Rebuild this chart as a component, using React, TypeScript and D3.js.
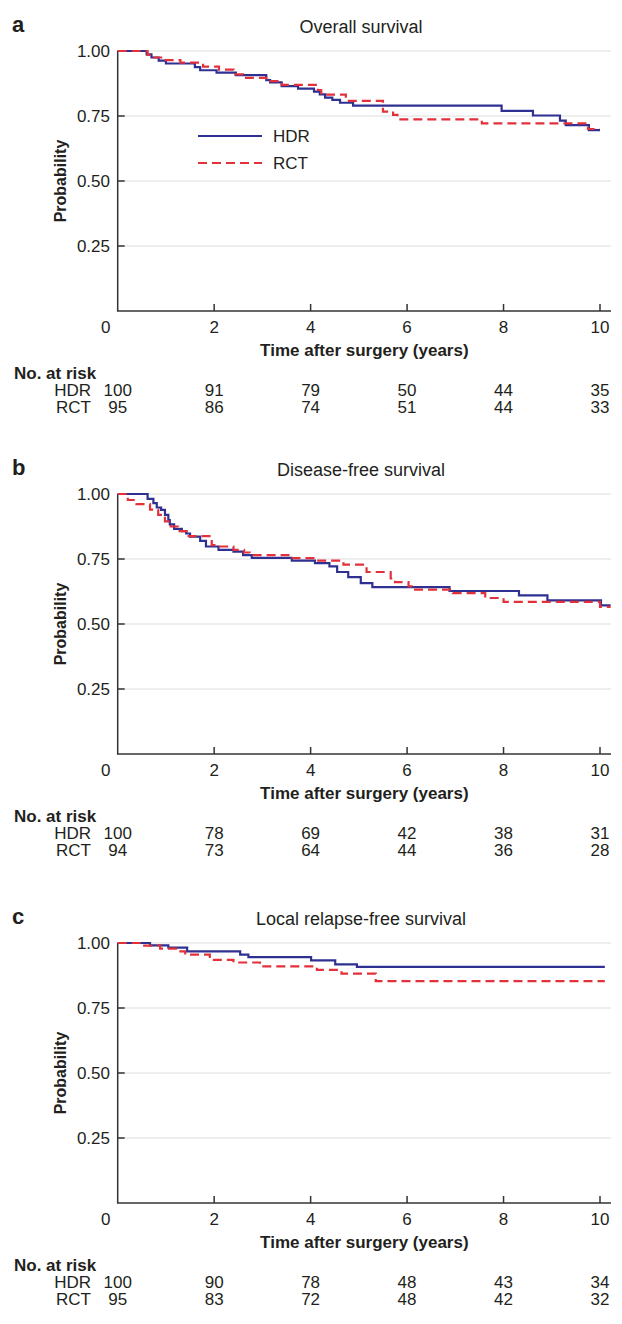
import React from "react";
import * as d3 from "d3";

// ---------- DATA ----------
const xTicks = [0, 2, 4, 6, 8, 10];
const yTicks = [0.25, 0.5, 0.75, 1.0];
const yTickLabels = ["0.25", "0.50", "0.75", "1.00"];
const panelLetters = ["a", "b", "c"];
const panelTitles = ["Overall survival", "Disease-free survival", "Local relapse-free survival"];
const groupNames = ["HDR", "RCT"];

// Panel a: overall survival
const osHdrTime = [0, 0.6, 0.7, 0.85, 1.0, 1.6, 1.71, 2.05, 2.45, 3.08, 3.16, 3.4, 3.74, 4.07, 4.19, 4.3, 4.45, 4.61, 4.88, 7.96, 8.61, 9.17, 9.29, 9.77, 10.0];
const osHdrSurv = [1, 0.987, 0.975, 0.963, 0.952, 0.938, 0.926, 0.917, 0.907, 0.888, 0.879, 0.865, 0.855, 0.844, 0.833, 0.821, 0.812, 0.801, 0.79, 0.77, 0.752, 0.732, 0.715, 0.696, 0.696];
const osRctTime = [0, 0.62, 0.72, 0.95, 1.3, 1.77, 2.1, 2.4, 2.6, 3.08, 3.4, 4.15, 4.22, 4.73, 5.5, 5.71, 5.8, 7.55, 9.75, 10.0];
const osRctSurv = [1, 0.985, 0.975, 0.965, 0.955, 0.94, 0.928, 0.91, 0.897, 0.884, 0.87, 0.85, 0.832, 0.808, 0.767, 0.754, 0.737, 0.722, 0.7, 0.7];

// Panel b: disease-free survival
const dfsHdrTime = [0, 0.62, 0.74, 0.81, 0.9, 0.98, 1.05, 1.08, 1.17, 1.33, 1.42, 1.5, 1.71, 1.83, 2.09, 2.4, 2.6, 2.78, 3.61, 4.09, 4.39, 4.55, 4.78, 5.04, 5.28, 6.88, 8.32, 8.91, 10.02, 10.22];
const dfsHdrSurv = [1, 0.981, 0.965, 0.948, 0.939, 0.92, 0.9, 0.883, 0.866, 0.857, 0.848, 0.836, 0.82, 0.798, 0.785, 0.778, 0.765, 0.754, 0.744, 0.734, 0.722, 0.7, 0.68, 0.657, 0.642, 0.627, 0.61, 0.591, 0.572, 0.572];
const dfsRctTime = [0, 0.21, 0.39, 0.67, 0.84, 0.98, 1.1, 1.25, 1.43, 1.95, 2.09, 2.4, 2.62, 2.74, 3.54, 4.13, 4.68, 5.16, 5.66, 5.75, 6.03, 6.1, 6.95, 7.62, 8.0, 10.0, 10.22];
const dfsRctSurv = [1, 0.977, 0.961, 0.94, 0.92, 0.895, 0.875, 0.857, 0.838, 0.803, 0.798, 0.785, 0.775, 0.765, 0.753, 0.744, 0.728, 0.7, 0.675, 0.661, 0.645, 0.632, 0.619, 0.6, 0.585, 0.566, 0.566];

// Panel c: local relapse-free survival
const lrfsHdrTime = [0, 0.67, 1.05, 1.44, 2.54, 2.71, 4.01, 4.51, 4.96, 10.1];
const lrfsHdrSurv = [1, 0.991, 0.982, 0.968, 0.955, 0.946, 0.933, 0.918, 0.908, 0.908];
const lrfsRctTime = [0, 0.55, 0.88, 1.3, 1.4, 1.91, 2.4, 2.95, 4.13, 4.64, 5.35, 10.1];
const lrfsRctSurv = [1, 0.99, 0.978, 0.968, 0.955, 0.935, 0.925, 0.91, 0.897, 0.882, 0.853, 0.853];

// Numbers at risk
const osRiskHdr = [100, 91, 79, 50, 44, 35];
const osRiskRct = [95, 86, 74, 51, 44, 33];
const dfsRiskHdr = [100, 78, 69, 42, 38, 31];
const dfsRiskRct = [94, 73, 64, 44, 36, 28];
const lrfsRiskHdr = [100, 90, 78, 48, 43, 34];
const lrfsRiskRct = [95, 83, 72, 48, 42, 32];

// ---------- STYLE / LAYOUT ----------
const FONT = "'Liberation Sans', Arial, Helvetica, sans-serif";
const TEXT = "#231f20";
const BLUE = "#2e3192";
const RED = "#e2313b";
const AXIS = "#333333";
const GRID = "#e8e8e8";

const W = 622;
const H = 1324;
const X0 = 117.7;
const X10 = 600;
const AXIS_END = 611;
const PLOT_H = 260;
const PANEL_TOPS = [51, 494, 943];

const x = d3.scaleLinear().domain([0, 10]).range([X0, X10]);

const panels = [
  { hdrT: osHdrTime, hdrS: osHdrSurv, rctT: osRctTime, rctS: osRctSurv, riskH: osRiskHdr, riskR: osRiskRct, legend: true },
  { hdrT: dfsHdrTime, hdrS: dfsHdrSurv, rctT: dfsRctTime, rctS: dfsRctSurv, riskH: dfsRiskHdr, riskR: dfsRiskRct, legend: false },
  { hdrT: lrfsHdrTime, hdrS: lrfsHdrSurv, rctT: lrfsRctTime, rctS: lrfsRctSurv, riskH: lrfsRiskHdr, riskR: lrfsRiskRct, legend: false },
];

function Panel({ idx }: { idx: number }) {
  const p = panels[idx];
  const top = PANEL_TOPS[idx];
  const bottom = top + PLOT_H;
  const y = d3.scaleLinear().domain([0, 1]).range([bottom, top]);
  const line = d3
    .line<[number, number]>()
    .x((d) => x(d[0]))
    .y((d) => y(d[1]))
    .curve(d3.curveStepAfter);
  const hdrPts = p.hdrT.map((t, i) => [t, p.hdrS[i]] as [number, number]);
  const rctPts = p.rctT.map((t, i) => [t, p.rctS[i]] as [number, number]);
  const midY = (top + bottom) / 2;

  return (
    <g>
      <text x={12} y={top - 19} fontSize={22} fontWeight="bold" fill={TEXT}>
        {panelLetters[idx]}
      </text>
      <text x={361} y={top - 18} fontSize={18} textAnchor="middle" fill={TEXT}>
        {panelTitles[idx]}
      </text>
      {/* grid */}
      {yTicks.map((v) => (
        <line key={"g" + v} x1={X0} x2={AXIS_END} y1={y(v)} y2={y(v)} stroke={GRID} strokeWidth={1.5} />
      ))}
      {/* y ticks & labels */}
      {yTicks.map((v, i) => (
        <g key={"yt" + v}>
          <line x1={X0} x2={X0 + 7} y1={y(v)} y2={y(v)} stroke={AXIS} strokeWidth={1.5} />
          <text x={110} y={y(v)} dy="0.36em" fontSize={17} textAnchor="end" fill={TEXT}>
            {yTickLabels[i]}
          </text>
        </g>
      ))}
      {/* x ticks & labels */}
      {xTicks.map((v) => (
        <g key={"xt" + v}>
          {v > 0 && <line x1={x(v)} x2={x(v)} y1={bottom} y2={bottom - 7} stroke={AXIS} strokeWidth={1.5} />}
          <text x={x(v) - (v === 0 ? 12 : 0)} y={bottom + 22} fontSize={17} textAnchor="middle" fill={TEXT}>
            {v}
          </text>
        </g>
      ))}
      {/* axes */}
      <line x1={X0} x2={X0} y1={top} y2={bottom} stroke={AXIS} strokeWidth={1.5} />
      <line x1={X0 - 0.75} x2={AXIS_END} y1={bottom} y2={bottom} stroke={AXIS} strokeWidth={1.5} />
      {/* axis titles */}
      <text
        transform={`translate(66,${midY}) rotate(-90)`}
        fontSize={16}
        fontWeight="bold"
        textAnchor="middle"
        fill={TEXT}
      >
        Probability
      </text>
      <text x={(X0 + AXIS_END) / 2} y={bottom + 45} fontSize={17} fontWeight="bold" textAnchor="middle" fill={TEXT}>
        Time after surgery (years)
      </text>
      {/* curves */}
      <path d={line(hdrPts) || ""} fill="none" stroke={BLUE} strokeWidth={2.2} />
      <path d={line(rctPts) || ""} fill="none" stroke={RED} strokeWidth={2.2} strokeDasharray="9,5" />
      {/* legend */}
      {p.legend && (
        <g>
          <line x1={198} x2={262} y1={top + 85} y2={top + 85} stroke={BLUE} strokeWidth={2.2} />
          <text x={273} y={top + 85} dy="0.36em" fontSize={17} fill={TEXT}>
            {groupNames[0]}
          </text>
          <line x1={198} x2={262} y1={top + 112} y2={top + 112} stroke={RED} strokeWidth={2.2} strokeDasharray="9,5" />
          <text x={273} y={top + 112} dy="0.36em" fontSize={17} fill={TEXT}>
            {groupNames[1]}
          </text>
        </g>
      )}
      {/* numbers at risk */}
      <text x={14} y={bottom + 68} fontSize={17} fontWeight="bold" fill={TEXT}>
        No. at risk
      </text>
      <text x={91} y={bottom + 85} fontSize={17} textAnchor="end" fill={TEXT}>
        {groupNames[0]}
      </text>
      <text x={91} y={bottom + 102} fontSize={17} textAnchor="end" fill={TEXT}>
        {groupNames[1]}
      </text>
      {xTicks.map((v, i) => (
        <g key={"r" + v}>
          <text x={x(v)} y={bottom + 85} fontSize={17} textAnchor="middle" fill={TEXT}>
            {p.riskH[i]}
          </text>
          <text x={x(v)} y={bottom + 102} fontSize={17} textAnchor="middle" fill={TEXT}>
            {p.riskR[i]}
          </text>
        </g>
      ))}
    </g>
  );
}

export default function App() {
  return (
    <svg
      width={W}
      height={H}
      viewBox={`0 0 ${W} ${H}`}
      style={{ position: "absolute", left: 0, top: 0, background: "#fff", fontFamily: FONT }}
    >
      <rect x={0} y={0} width={W} height={H} fill="#fff" />
      {[0, 1, 2].map((i) => (
        <Panel key={i} idx={i} />
      ))}
    </svg>
  );
}
